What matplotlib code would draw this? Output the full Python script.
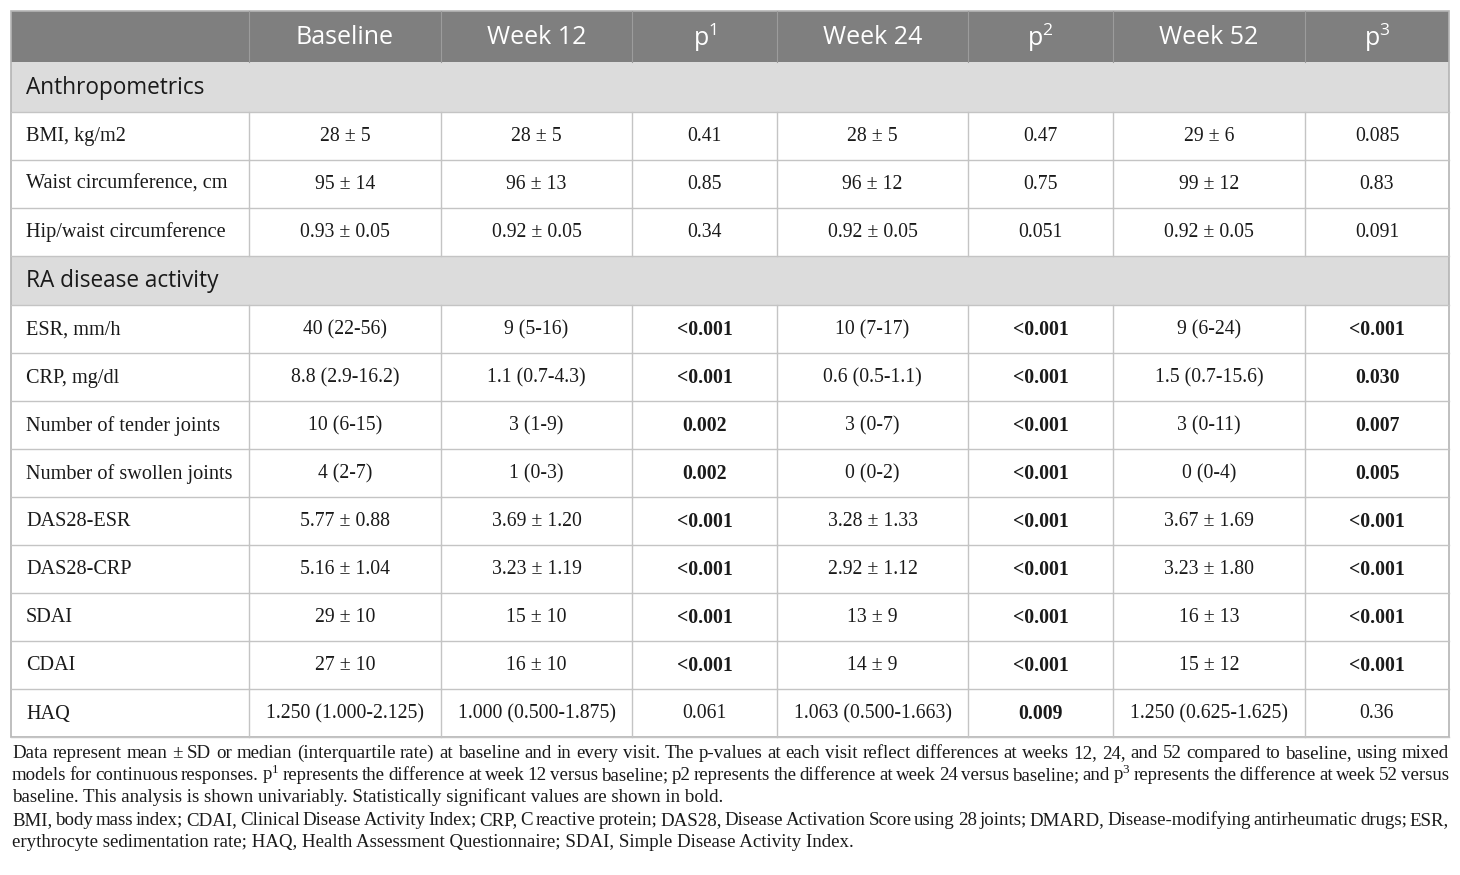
import matplotlib.pyplot as plt
from matplotlib.patches import Rectangle

plt.rcParams['mathtext.fontset'] = 'custom'

# table content
headers = ["", "Baseline", "Week 12", r"p$\mathregular{^1}$", "Week 24",
           r"p$\mathregular{^2}$", "Week 52", r"p$\mathregular{^3}$"]

sections = ["Anthropometrics", "RA disease activity"]
section_start = [0, 3]   # row index where each section begins

labels = ["BMI, kg/m2", "Waist circumference, cm", "Hip/waist circumference",
          "ESR, mm/h", "CRP, mg/dl", "Number of tender joints",
          "Number of swollen joints", "DAS28-ESR", "DAS28-CRP", "SDAI",
          "CDAI", "HAQ"]
baseline = ["28 ± 5", "95 ± 14", "0.93 ± 0.05", "40 (22-56)", "8.8 (2.9-16.2)",
            "10 (6-15)", "4 (2-7)", "5.77 ± 0.88", "5.16 ± 1.04", "29 ± 10",
            "27 ± 10", "1.250 (1.000-2.125)"]
week12 = ["28 ± 5", "96 ± 13", "0.92 ± 0.05", "9 (5-16)", "1.1 (0.7-4.3)",
          "3 (1-9)", "1 (0-3)", "3.69 ± 1.20", "3.23 ± 1.19", "15 ± 10",
          "16 ± 10", "1.000 (0.500-1.875)"]
p1 = ["0.41", "0.85", "0.34", "<0.001", "<0.001", "0.002", "0.002", "<0.001",
      "<0.001", "<0.001", "<0.001", "0.061"]
week24 = ["28 ± 5", "96 ± 12", "0.92 ± 0.05", "10 (7-17)", "0.6 (0.5-1.1)",
          "3 (0-7)", "0 (0-2)", "3.28 ± 1.33", "2.92 ± 1.12", "13 ± 9",
          "14 ± 9", "1.063 (0.500-1.663)"]
p2 = ["0.47", "0.75", "0.051", "<0.001", "<0.001", "<0.001", "<0.001", "<0.001",
      "<0.001", "<0.001", "<0.001", "0.009"]
week52 = ["29 ± 6", "99 ± 12", "0.92 ± 0.05", "9 (6-24)", "1.5 (0.7-15.6)",
          "3 (0-11)", "0 (0-4)", "3.67 ± 1.69", "3.23 ± 1.80", "16 ± 13",
          "15 ± 12", "1.250 (0.625-1.625)"]
p3 = ["0.085", "0.83", "0.091", "<0.001", "0.030", "0.007", "0.005", "<0.001",
      "<0.001", "<0.001", "<0.001", "0.36"]

columns = [labels, baseline, week12, p1, week24, p2, week52, p3]
p_cols = [3, 5, 7]

footnote = [
    ("Data represent mean ± SD or median (interquartile rate) at baseline and in every visit. "
     "The p-values at each visit reflect differences at weeks 12, 24, and 52 compared to baseline, using mixed", True),
    (r"models for continuous responses. p$\mathregular{^1}$ represents the difference at week 12 versus baseline; "
     r"p2 represents the difference at week 24 versus baseline; and p$\mathregular{^3}$ represents the difference at week 52 versus", True),
    ("baseline. This analysis is shown univariably. Statistically significant values are shown in bold.", False),
    ("BMI, body mass index; CDAI, Clinical Disease Activity Index; CRP, C reactive protein; DAS28, "
     "Disease Activation Score using 28 joints; DMARD, Disease-modifying antirheumatic drugs; ESR,", True),
    ("erythrocyte sedimentation rate; HAQ, Health Assessment Questionnaire; SDAI, Simple Disease Activity Index.", False),
]

# layout (pixels)
col_edges = [11, 249, 441, 632, 777, 968, 1113, 1305, 1449]
top = 11
header_h = 51
section_h = 49.5
row_h = 48

serif = 'Liberation Serif'
sans = 'Open Sans'
line_col = '#c4c4c4'
text_col = '#1a1a1a'

fig = plt.figure(figsize=(14.6, 8.75), dpi=100)
ax = fig.add_axes([0, 0, 1, 1])
ax.set_xlim(0, 1460)
ax.set_ylim(875, 0)
ax.axis('off')

x0, x1 = col_edges[0], col_edges[-1]

# header
ax.add_patch(Rectangle((x0, top), x1 - x0, header_h, color='#7f7f7f', lw=0))
for i, h in enumerate(headers):
    cx = (col_edges[i] + col_edges[i + 1]) / 2
    ax.text(cx, top + header_h / 2 + 1, h, ha='center', va='center', color='white',
            family=sans, fontsize=18)
    if i > 0:
        ax.plot([col_edges[i]] * 2, [top, top + header_h], color='#9c9c9c', lw=0.8)

y = top + header_h
for r in range(len(labels)):
    if r in section_start:
        s = sections[section_start.index(r)]
        ax.add_patch(Rectangle((x0, y), x1 - x0, section_h, color='#dcdcdc', lw=0))
        ax.text(26, y + section_h / 2 + 1, s, ha='left', va='center', color=text_col,
                family=sans, fontsize=16.3)
        ax.plot([x0, x1], [y + section_h] * 2, color=line_col, lw=1)
        y += section_h
    for c, col in enumerate(columns):
        val = col[r]
        bold = False
        if c in p_cols:
            bold = val.startswith('<') or float(val) < 0.05
        if c == 0:
            ax.text(26, y + row_h / 2 + 1, val, ha='left', va='center', color=text_col,
                    family=serif, fontsize=14.6)
        else:
            cx = (col_edges[c] + col_edges[c + 1]) / 2
            ax.text(cx, y + row_h / 2 + 1, val, ha='center', va='center', color=text_col,
                    family=serif, fontsize=14.2, fontweight='bold' if bold else 'normal')
        if c > 0:
            ax.plot([col_edges[c]] * 2, [y, y + row_h], color=line_col, lw=1)
    ax.plot([x0, x1], [y + row_h] * 2, color=line_col, lw=1)
    y += row_h

table_bottom = y
ax.add_patch(Rectangle((x0, top), x1 - x0, table_bottom - top, fill=False,
                       ec='#b4b4b4', lw=1.2))

# footnote, justified like the journal layout
fig.canvas.draw()
renderer = fig.canvas.get_renderer()
base_y = 758
for k, (line, justify) in enumerate(footnote):
    ly = base_y + k * 22.2
    if not justify:
        ax.text(12, ly, line, ha='left', va='baseline', color=text_col,
                family=serif, fontsize=13.55)
        continue
    words = line.split(' ')
    texts = [ax.text(0, ly, w, ha='left', va='baseline', color=text_col,
                     family=serif, fontsize=13.55) for w in words]
    widths = [t.get_window_extent(renderer).width for t in texts]
    gap = (x1 - 12 - sum(widths)) / (len(words) - 1)
    xx = 12
    for t, w in zip(texts, widths):
        t.set_x(xx)
        xx += w + gap

fig.savefig('out.png', dpi=100)
